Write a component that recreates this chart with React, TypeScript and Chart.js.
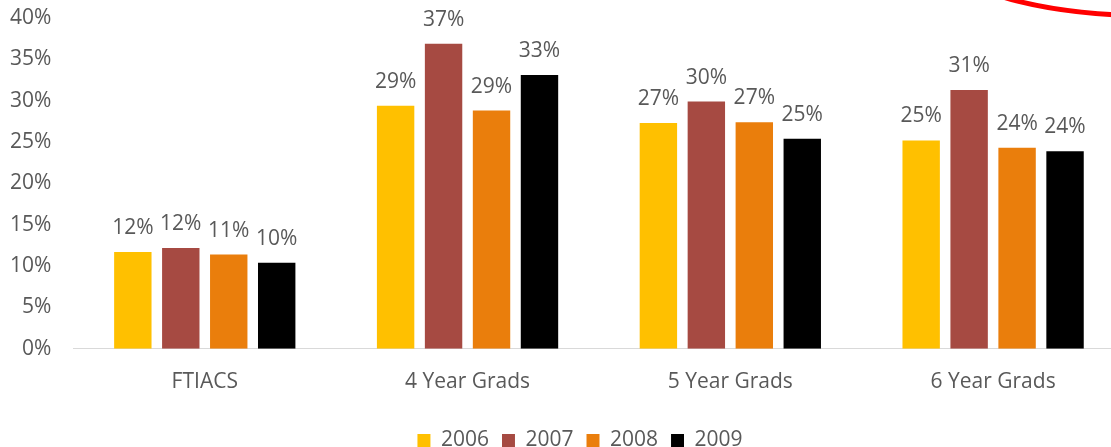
import React, { useEffect, useRef } from "react";
import { Chart, registerables } from "chart.js";

Chart.register(...registerables);

const categories = ["FTIACS", "4 Year Grads", "5 Year Grads", "6 Year Grads"];
const years = ["2006", "2007", "2008", "2009"];
const values2006 = [11.7, 29.4, 27.3, 25.2];
const values2007 = [12.2, 36.9, 29.9, 31.3];
const values2008 = [11.4, 28.8, 27.4, 24.3];
const values2009 = [10.4, 33.1, 25.4, 23.9];
const colors = ["#FFC000", "#A64A42", "#EA7E0C", "#000000"];
const yTicks = [0, 5, 10, 15, 20, 25, 30, 35, 40];

const FONT = "'Open Sans', 'Noto Sans', sans-serif";
const TEXT = "#595959";
const FS = 21;

const valueLabels = {
  id: "valueLabels",
  afterDatasetsDraw(chart: any) {
    const ctx = chart.ctx;
    ctx.save();
    ctx.font = `${FS}px ${FONT}`;
    ctx.fillStyle = TEXT;
    ctx.textAlign = "center";
    ctx.textBaseline = "alphabetic";
    chart.data.datasets.forEach((ds: any, i: number) => {
      const meta = chart.getDatasetMeta(i);
      meta.data.forEach((el: any, j: number) => {
        ctx.fillText(Math.round(ds.data[j]) + "%", el.x, el.y - 18);
      });
    });
    ctx.restore();
  },
};

const redMark = {
  id: "redMark",
  afterDraw(chart: any) {
    const ctx = chart.ctx;
    ctx.save();
    ctx.strokeStyle = "#FF0000";
    ctx.lineWidth = 5;
    ctx.beginPath();
    ctx.ellipse(1160, -34, 200, 50, 0, 0, Math.PI);
    ctx.stroke();
    ctx.restore();
  },
};

export default function App() {
  const ref = useRef<HTMLCanvasElement>(null);
  useEffect(() => {
    if (!ref.current) return;
    const series = [values2006, values2007, values2008, values2009];
    const chart = new Chart(ref.current, {
      type: "bar",
      data: {
        labels: categories,
        datasets: years.map((y, i) => ({
          label: y,
          data: series[i],
          backgroundColor: colors[i],
          borderWidth: 0,
          categoryPercentage: 0.73,
          barPercentage: 0.78,
          yAxisID: "y",
        })),
      },
      options: {
        animation: false,
        responsive: false,
        devicePixelRatio: 1,
        layout: { padding: { left: 10, right: 0, top: 18, bottom: 0 } },
        scales: {
          x: {
            grid: { display: false, drawTicks: true, tickLength: 21 },
            border: { display: true, color: "#D9D9D9", width: 1 },
            ticks: { color: TEXT, font: { family: FONT, size: FS }, padding: 0 },
            title: { display: true, text: "", font: { size: 1 }, padding: { top: 0, bottom: 20.8 } },
          },
          y: {
            min: 0,
            max: 40,
            afterBuildTicks: (axis: any) => {
              axis.ticks = yTicks.map((v) => ({ value: v }));
            },
            grid: { display: false, drawTicks: true, tickLength: 22 },
            border: { display: false },
            ticks: {
              color: TEXT,
              font: { family: FONT, size: FS },
              padding: 0,
              callback: (v: any) => v + "%",
            },
          },
          yRight: {
            position: "right",
            display: true,
            grid: { display: false, drawTicks: false },
            border: { display: false },
            ticks: { display: false },
            title: { display: true, text: "", font: { size: 1 }, padding: { top: 0, bottom: 24.3 } },
          },
        },
        plugins: {
          legend: {
            position: "bottom",
            labels: {
              boxWidth: 13,
              boxHeight: 13,
              padding: 13,
              color: TEXT,
              font: { family: FONT, size: FS },
            },
          },
          tooltip: { enabled: false },
        },
      },
      plugins: [valueLabels, redMark],
    });
    return () => chart.destroy();
  }, []);
  return (
    <div style={{ position: "fixed", left: 0, top: 0, width: "100vw", height: "100vh", overflow: "hidden", background: "#fff" }}>
      <canvas ref={ref} width={1150} height={461} style={{ display: "block", width: 1150, height: 461 }} />
    </div>
  );
}
